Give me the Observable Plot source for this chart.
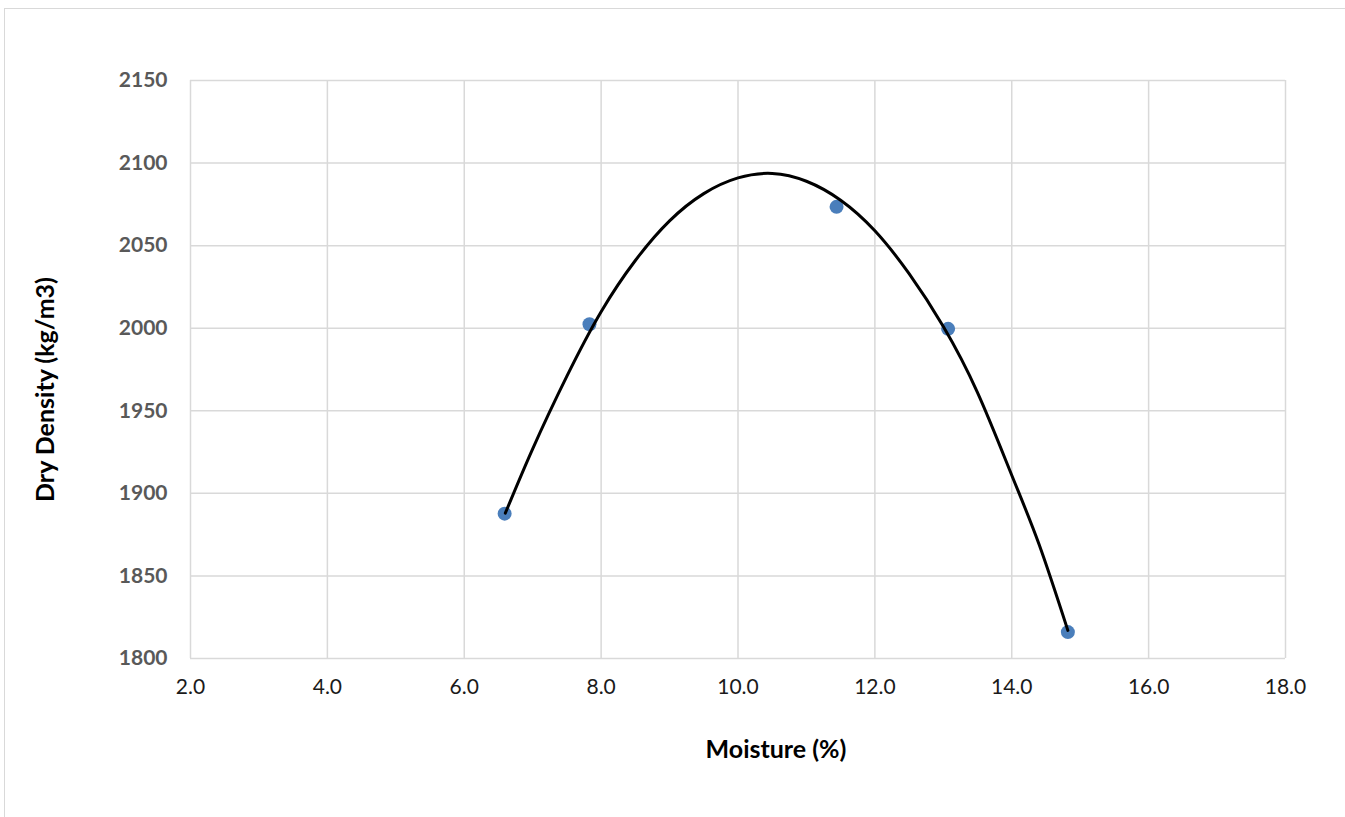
<!DOCTYPE html>
<html>
<head>
<meta charset="utf-8">
<script src="https://cdn.jsdelivr.net/npm/d3@7"></script>
<script src="https://cdn.jsdelivr.net/npm/@observablehq/plot@0.6"></script>
<style>
  html, body { margin: 0; padding: 0; background: #fff; }
  #wrap { position: relative; width: 1345px; height: 817px; overflow: hidden; }
  #frame { position: absolute; left: 4px; top: 8px; width: 1400px; height: 900px;
           border-left: 1.5px solid #d9d9d9; border-top: 1.5px solid #d9d9d9; }
  #chart { position: absolute; left: 0; top: 0; }
</style>
</head>
<body>
<div id="wrap"><div id="frame"></div><div id="chart"></div></div>
<script>
// Measured points
const moisture = [6.59, 7.83, 11.44, 13.07, 14.82];
const density  = [1887.7, 2002.4, 2073.5, 1999.6, 1816.0];

// Trend curve
const trendX = [6.6, 7.0, 7.5, 8.0, 8.5, 9.0, 9.5, 10.0, 10.5, 11.0, 11.5, 12.0, 12.5, 13.0, 13.5, 14.0, 14.4, 14.82];
const trendY = [1888, 1927, 1971, 2010, 2041, 2065, 2081.5, 2091, 2093.7, 2089, 2077.5, 2059, 2033, 2001, 1961, 1911, 1869, 1817];

const xTicks = [2, 4, 6, 8, 10, 12, 14, 16, 18];
const yTicks = [1800, 1850, 1900, 1950, 2000, 2050, 2100, 2150];

const points = moisture.map((m, i) => ({x: m, y: density[i]}));
const trend = trendX.map((m, i) => ({x: m, y: trendY[i]}));

const chart = Plot.plot({
  width: 1345,
  height: 817,
  marginLeft: 190,
  marginRight: 60,
  marginTop: 80,
  marginBottom: 159,
  style: {fontFamily: "Lato, 'Open Sans', sans-serif", background: "transparent"},
  x: {domain: [2, 18]},
  y: {domain: [1800, 2150]},
  marks: [
    Plot.gridX(xTicks, {stroke: "#d9d9d9", strokeOpacity: 1, strokeWidth: 1.5}),
    Plot.gridY(yTicks, {stroke: "#d9d9d9", strokeOpacity: 1, strokeWidth: 1.5}),
    Plot.axisX(xTicks, {tickSize: 0, tickPadding: 21, fontSize: 21, color: "#1a1a1a",
      tickFormat: d => d.toFixed(1), label: null}),
    Plot.axisY(yTicks, {tickSize: 0, tickPadding: 23, fontSize: 21, fontWeight: "bold",
      color: "#595959", tickFormat: d => String(d), label: null}),
    Plot.dot(points, {x: "x", y: "y", r: 7, fill: "#4a7ebb", stroke: "none"}),
    Plot.line(trend, {x: "x", y: "y", curve: "natural", stroke: "#000", strokeWidth: 3}),
    Plot.text(["Moisture (%)"], {frameAnchor: "bottom", textAnchor: "middle", lineAnchor: "middle",
      dx: 38, dy: 91, text: d => d, fontSize: 25, fontWeight: "bold", fill: "#000"}),
    Plot.text(["Dry Density (kg/m3)"], {frameAnchor: "left", textAnchor: "middle", lineAnchor: "middle",
      dx: -145, dy: 20, rotate: -90, text: d => d, fontSize: 25, fontWeight: "bold", fill: "#000"})
  ]
});
document.getElementById("chart").appendChild(chart);
</script>
</body>
</html>
